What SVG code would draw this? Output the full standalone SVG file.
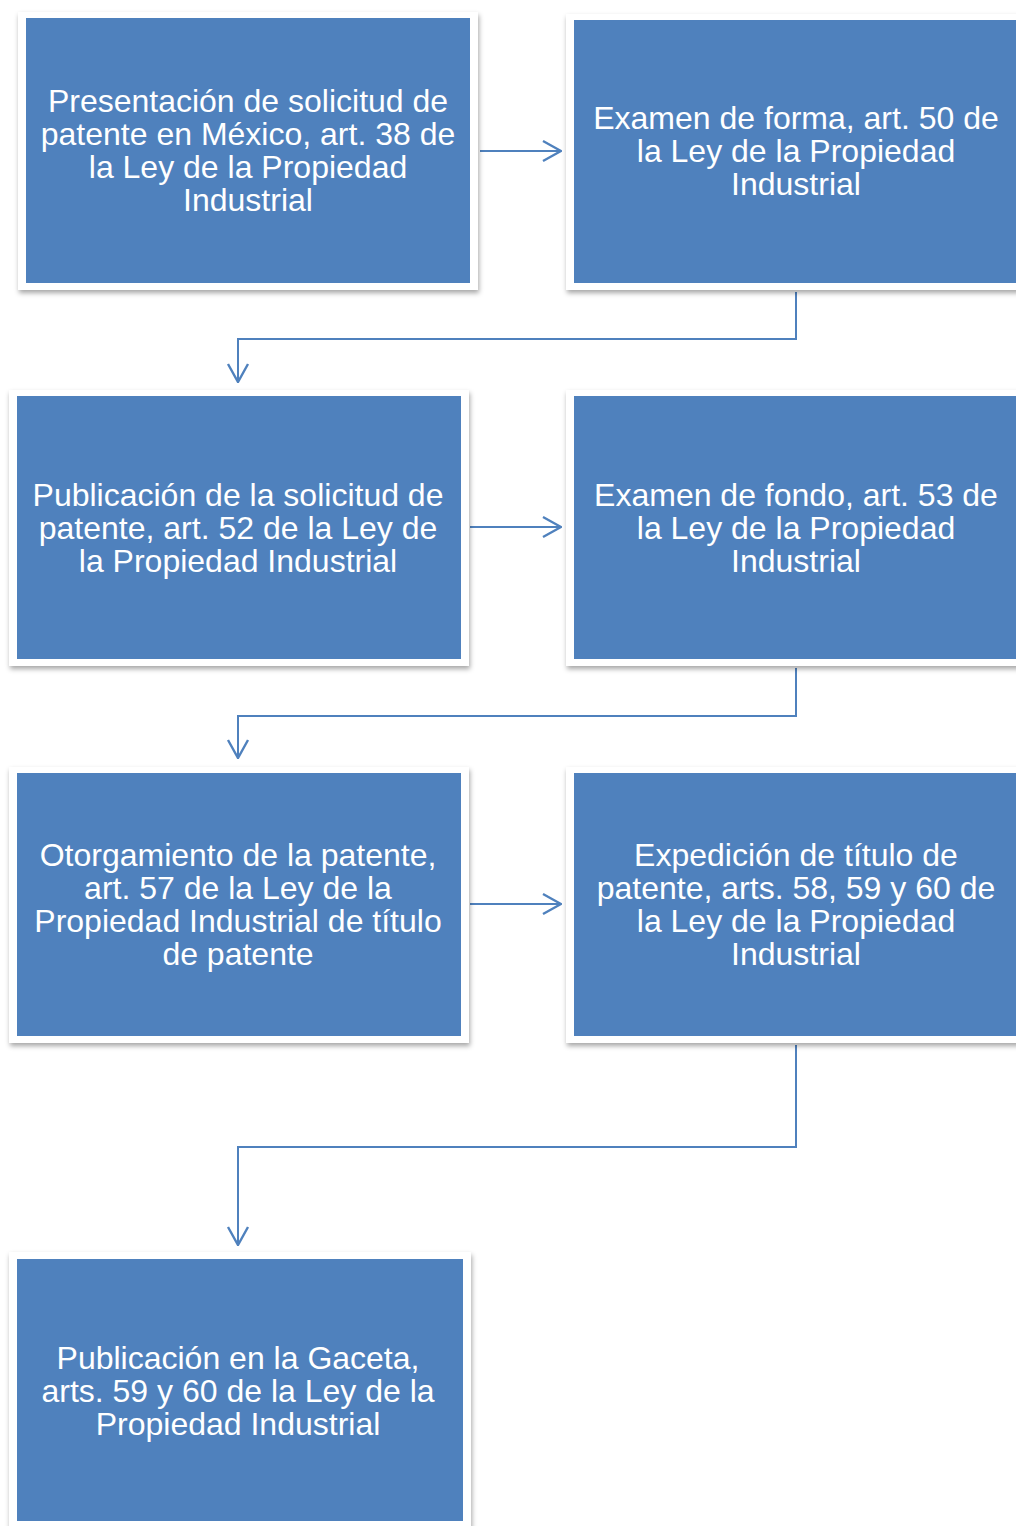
<svg xmlns="http://www.w3.org/2000/svg" width="1016" height="1526" viewBox="0 0 1016 1526">
<style>
.frame{fill:#ffffff;filter:url(#sh)}
.box{fill:#4f81bd}
.t{font-family:"Liberation Sans",Arial,sans-serif;font-size:32px;fill:#ffffff;text-anchor:middle}
.c{fill:none;stroke:#4f81bd;stroke-width:2;marker-end:url(#ah)}
</style>
<defs>
<filter id="sh" x="-5%" y="-5%" width="110%" height="115%">
<feDropShadow dx="1" dy="3" stdDeviation="2.5" flood-color="#000000" flood-opacity="0.35"/>
</filter>
<marker id="ah" viewBox="0 0 20 24" refX="19" refY="12" markerWidth="20" markerHeight="24" markerUnits="userSpaceOnUse" orient="auto">
<path d="M1,2 L19,12 L1,22" fill="none" stroke="#4f81bd" stroke-width="2.4"/>
</marker>
</defs>
<rect width="1016" height="1526" fill="#ffffff"/>
<g id="connectors">
<path class="c" d="M480,151 H561"/>
<path class="c" d="M796,292 V339 H238 V382"/>
<path class="c" d="M470,527 H561"/>
<path class="c" d="M796,668 V716 H238 V758"/>
<path class="c" d="M470,904 H561"/>
<path class="c" d="M796,1045 V1147 H238 V1245"/>
</g>
<g id="n1">
<rect class="frame" x="18" y="12" width="460" height="278"/>
<rect class="box" x="26" y="18" width="444" height="265"/>
<text class="t" x="248" y="112">Presentación de solicitud de</text>
<text class="t" x="248" y="145">patente en México, art. 38 de</text>
<text class="t" x="248" y="178">la Ley de la Propiedad</text>
<text class="t" x="248" y="211">Industrial</text>
</g>
<g id="n2">
<rect class="frame" x="566" y="14" width="460" height="276"/>
<rect class="box" x="574" y="20" width="450" height="263"/>
<text class="t" x="796" y="129">Examen de forma, art. 50 de</text>
<text class="t" x="796" y="162">la Ley de la Propiedad</text>
<text class="t" x="796" y="195">Industrial</text>
</g>
<g id="n3">
<rect class="frame" x="9" y="390" width="460" height="276"/>
<rect class="box" x="17" y="396" width="444" height="263"/>
<text class="t" x="238" y="506">Publicación de la solicitud de</text>
<text class="t" x="238" y="539">patente, art. 52 de la Ley de</text>
<text class="t" x="238" y="572">la Propiedad Industrial</text>
</g>
<g id="n4">
<rect class="frame" x="566" y="390" width="460" height="276"/>
<rect class="box" x="574" y="396" width="450" height="263"/>
<text class="t" x="796" y="506">Examen de fondo, art. 53 de</text>
<text class="t" x="796" y="539">la Ley de la Propiedad</text>
<text class="t" x="796" y="572">Industrial</text>
</g>
<g id="n5">
<rect class="frame" x="9" y="767" width="460" height="276"/>
<rect class="box" x="17" y="773" width="444" height="263"/>
<text class="t" x="238" y="866">Otorgamiento de la patente,</text>
<text class="t" x="238" y="899">art. 57 de la Ley de la</text>
<text class="t" x="238" y="932">Propiedad Industrial de título</text>
<text class="t" x="238" y="965">de patente</text>
</g>
<g id="n6">
<rect class="frame" x="566" y="767" width="460" height="276"/>
<rect class="box" x="574" y="773" width="450" height="263"/>
<text class="t" x="796" y="866">Expedición de título de</text>
<text class="t" x="796" y="899">patente, arts. 58, 59 y 60 de</text>
<text class="t" x="796" y="932">la Ley de la Propiedad</text>
<text class="t" x="796" y="965">Industrial</text>
</g>
<g id="n7">
<rect class="frame" x="9" y="1252" width="462" height="280"/>
<rect class="box" x="17" y="1259" width="446" height="262"/>
<text class="t" x="238" y="1369">Publicación en la Gaceta,</text>
<text class="t" x="238" y="1402">arts. 59 y 60 de la Ley de la</text>
<text class="t" x="238" y="1435">Propiedad Industrial</text>
</g>
</svg>
